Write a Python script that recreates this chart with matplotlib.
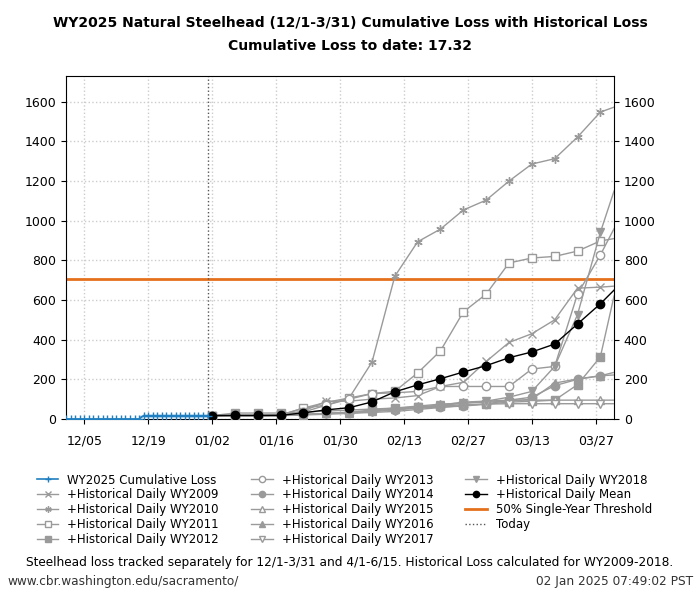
import matplotlib
matplotlib.use('Agg')
import matplotlib.pyplot as plt
import matplotlib.dates as mdates
import pandas as pd

# WY2025 cumulative loss, daily 12/1 - 1/1
wy2025_dates = pd.to_datetime(['2024-12-01', '2024-12-02', '2024-12-03', '2024-12-04', '2024-12-05',
                               '2024-12-06', '2024-12-07', '2024-12-08', '2024-12-09', '2024-12-10',
                               '2024-12-11', '2024-12-12', '2024-12-13', '2024-12-14', '2024-12-15',
                               '2024-12-16', '2024-12-17', '2024-12-18', '2024-12-19', '2024-12-20',
                               '2024-12-21', '2024-12-22', '2024-12-23', '2024-12-24', '2024-12-25',
                               '2024-12-26', '2024-12-27', '2024-12-28', '2024-12-29', '2024-12-30',
                               '2024-12-31', '2025-01-01'])
wy2025_loss = [0, 0, 0, 0, 0, 0, 0, 0, 0, 0, 0, 0, 0, 0, 0, 0, 0,
               17.32, 17.32, 17.32, 17.32, 17.32, 17.32, 17.32, 17.32, 17.32,
               17.32, 17.32, 17.32, 17.32, 17.32, 17.32]

# projections (to-date loss + historical daily loss), read every 5 days, last point = 3/31
hist_dates = pd.to_datetime(['2025-01-02', '2025-01-07', '2025-01-12', '2025-01-17', '2025-01-22',
                             '2025-01-27', '2025-02-01', '2025-02-06', '2025-02-11', '2025-02-16',
                             '2025-02-21', '2025-02-26', '2025-03-03', '2025-03-08', '2025-03-13',
                             '2025-03-18', '2025-03-23', '2025-03-28', '2025-03-31'])
wy2009 = [17, 17, 17, 18, 40, 89, 90, 100, 106, 118, 164, 185, 290, 386, 430, 500, 660, 665, 670]
wy2010 = [17, 17, 17, 20, 55, 84, 106, 287, 720, 894, 958, 1054, 1104, 1200, 1286, 1313, 1422, 1548, 1573]
wy2011 = [17, 17, 17, 20, 55, 70, 106, 128, 140, 232, 344, 540, 630, 787, 812, 820, 847, 898, 910]
wy2012 = [17, 30, 30, 30, 35, 40, 45, 50, 55, 60, 65, 72, 75, 85, 89, 95, 173, 313, 620]
wy2013 = [17, 17, 17, 18, 35, 70, 100, 128, 132, 139, 164, 164, 164, 164, 252, 265, 630, 827, 960]
wy2014 = [17, 17, 17, 18, 22, 28, 30, 38, 45, 55, 60, 65, 75, 95, 110, 168, 200, 218, 222]
wy2015 = [17, 17, 17, 17, 22, 28, 30, 38, 50, 60, 70, 85, 90, 95, 95, 95, 95, 95, 95]
wy2016 = [17, 17, 17, 18, 22, 28, 35, 45, 55, 65, 75, 80, 85, 90, 100, 181, 202, 218, 235]
wy2017 = [17, 17, 17, 17, 20, 24, 28, 33, 38, 48, 58, 68, 75, 77, 77, 77, 77, 77, 77]
wy2018 = [17, 17, 17, 18, 22, 28, 32, 40, 48, 58, 68, 80, 90, 110, 139, 265, 526, 941, 1150]
hist_mean = [17, 18, 18, 18, 31, 46, 57, 86, 137, 172, 203, 237, 269, 309, 338, 378, 479, 581, 650]

threshold = 706
today = pd.Timestamp('2025-01-01')
tick_dates = pd.to_datetime(['2024-12-05', '2024-12-19', '2025-01-02', '2025-01-16', '2025-01-30',
                             '2025-02-13', '2025-02-27', '2025-03-13', '2025-03-27'])

years = [('WY2009', wy2009, 'x', True), ('WY2010', wy2010, (6, 2, 0), True),
         ('WY2011', wy2011, 's', False), ('WY2012', wy2012, 's', True),
         ('WY2013', wy2013, 'o', False), ('WY2014', wy2014, 'o', True),
         ('WY2015', wy2015, '^', False), ('WY2016', wy2016, '^', True),
         ('WY2017', wy2017, 'v', False), ('WY2018', wy2018, 'v', True)]

grey = '#9a9a9a'
fig = plt.figure(figsize=(7, 6), dpi=100)
ax = fig.add_axes([0.0943, 0.3017, 0.7829, 0.5716])

ax.plot(wy2025_dates, wy2025_loss, color='#1f7fc0', marker='+', markersize=6,
        lw=1.2, label='WY2025 Cumulative Loss', zorder=5)

nmark = len(hist_dates) - 1
for name, vals, mk, filled in years:
    ax.plot(hist_dates, vals, color=grey, lw=1, marker=mk, markersize=6,
            markevery=list(range(nmark)),
            markerfacecolor=grey if filled else 'white', markeredgecolor=grey,
            label='+Historical Daily ' + name, zorder=3)

ax.plot(hist_dates, hist_mean, color='black', lw=1, marker='o', markersize=6,
        markevery=list(range(nmark)), label='+Historical Daily Mean', zorder=4)
ax.axhline(threshold, color='#e5701c', lw=2, label='50% Single-Year Threshold', zorder=2)
ax.axvline(today, color='#555555', lw=1, ls=':', label='Today', zorder=2)

ax.set_xlim(pd.Timestamp('2024-12-01'), pd.Timestamp('2025-03-31'))
ax.set_ylim(0, 1730)
ax.set_xticks(tick_dates)
ax.xaxis.set_major_formatter(mdates.DateFormatter('%m/%d'))
ax.set_yticks(range(0, 1601, 200))
ax.tick_params(labelsize=9, right=True, labelright=True)
ax.tick_params(axis='x', pad=8)
ax.grid(True, ls=':', color='#cccccc', lw=1)

fig.text(0.5, 0.962, 'WY2025 Natural Steelhead (12/1-3/31) Cumulative Loss with Historical Loss',
         ha='center', va='center', fontsize=10, fontweight='bold')
fig.text(0.5, 0.923, 'Cumulative Loss to date: 17.32',
         ha='center', va='center', fontsize=10, fontweight='bold')

ax.legend(loc='upper left', bbox_to_anchor=(-0.073, -0.128), ncol=3, frameon=False,
          fontsize=8.5, handlelength=1.85, handletextpad=0.75, labelspacing=0.16,
          columnspacing=2.7, markerscale=0.75)

fig.text(0.5, 0.062, 'Steelhead loss tracked separately for 12/1-3/31 and 4/1-6/15. '
         'Historical Loss calculated for WY2009-2018.', ha='center', va='center', fontsize=8.7)
fig.text(0.01, 0.031, 'www.cbr.washington.edu/sacramento/', ha='left', va='center',
         fontsize=8.7, color='#333333')
fig.text(0.99, 0.031, '02 Jan 2025 07:49:02 PST', ha='right', va='center',
         fontsize=8.7, color='#333333')

fig.savefig('out.png')
